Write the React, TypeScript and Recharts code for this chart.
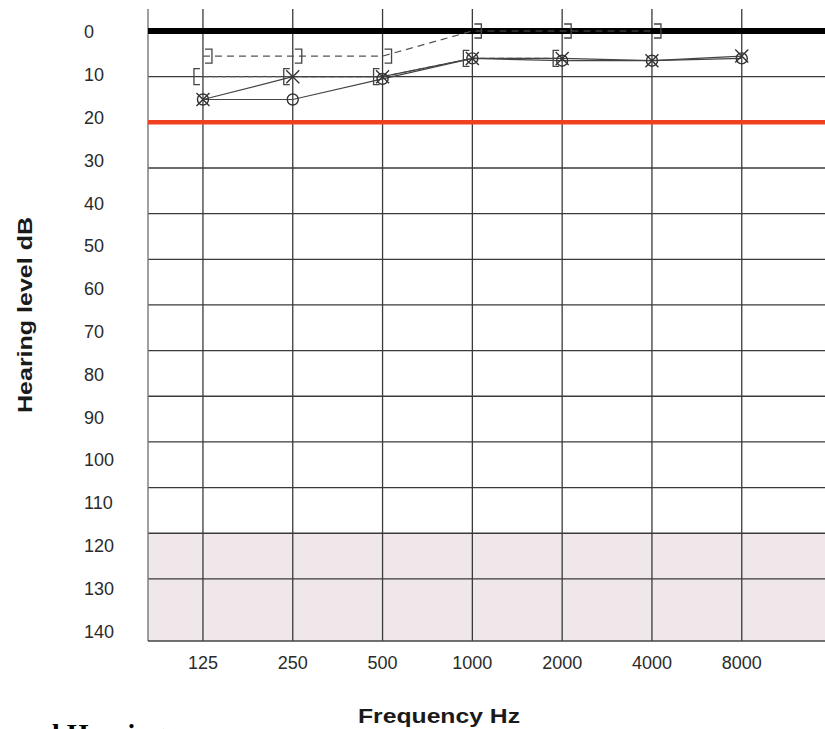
import { ComposedChart, Line, XAxis, YAxis, ReferenceLine, ReferenceArea } from 'recharts';

// audiogram values (dB HL)
const FREQS = ['125', '250', '500', '1000', '2000', '4000', '8000'];
const RIGHT_AIR = [15, 15, 10.5, 6, 6.5, 6.5, 6];
const LEFT_AIR = [15, 10, 10, 6, 6, 6.5, 5.5];
const RIGHT_BONE_MASKED = [10, 10, 10, 6, 6, null, null];
const LEFT_BONE_MASKED = [5.5, 5.5, 5.5, 0, 0, 0, null];

const DB_TICKS = [0, 10, 20, 30, 40, 50, 60, 70, 80, 90, 100, 110, 120, 130, 140];
const GRID_DB = [10, 20, 30, 40, 50, 60, 70, 80, 90, 100, 110, 120];
const NORMAL_LIMIT = 20;
const SHADE_FROM = 110;

// the scan's grid and its printed labels don't line up, so two y scales
const X_DOMAIN: [number, number] = [-0.612, 6.927];
const GRID_DOMAIN: [number, number] = [-4.82, 133.6];
const LABEL_DOMAIN: [number, number] = [-5.375, 142.32];

const rows = FREQS.map((f, i) => ({
  idx: i,
  freq: f,
  rightAir: RIGHT_AIR[i],
  leftAir: LEFT_AIR[i],
  rightBone: RIGHT_BONE_MASKED[i],
  leftBone: LEFT_BONE_MASKED[i],
}));

const INK = '#3a3a3a';
const SANS = "'Liberation Sans', Arial, Helvetica, sans-serif";

const DbTick = (props: any) => {
  const { y, payload } = props;
  return (
    <text x={84} y={y} dy="0.36em" textAnchor="start" fontSize={18} fill="#2b2b2b" fontFamily={SANS}>
      {payload.value}
    </text>
  );
};

const FreqTick = (props: any) => {
  const { x, y, payload } = props;
  return (
    <text x={x} y={y + 22} dy="0.36em" textAnchor="middle" fontSize={18} fill="#2b2b2b" fontFamily={SANS}>
      {FREQS[payload.value]}
    </text>
  );
};

const renderFreqLabel = () => (
  <g>
    <text x={439} y={723} textAnchor="middle" fontSize={21} fontWeight="bold" fill="#1a1a1a"
      fontFamily={SANS} textLength={162} lengthAdjust="spacingAndGlyphs">
      Frequency Hz
    </text>
    <text x={-32} y={743} fontSize={28} fontWeight="bold" fill="#000"
      fontFamily="'Liberation Serif', 'Times New Roman', serif">
      Normal Hearing
    </text>
  </g>
);

const renderDbLabel = () => (
  <text transform="translate(32,315) rotate(-90)" textAnchor="middle" fontSize={21} fontWeight="bold"
    fill="#1a1a1a" fontFamily={SANS} textLength={196} lengthAdjust="spacingAndGlyphs">
    Hearing level dB
  </text>
);

const noDot = (p: any) => <g key={`n-${p.index}`} />;

const circleDot = (p: any) =>
  p.cy == null ? noDot(p) : (
    <circle key={`o-${p.index}`} cx={p.cx} cy={p.cy} r={5.5} fill="none" stroke="#333" strokeWidth={1.4} />
  );

const crossDot = (p: any) => {
  if (p.cy == null) return noDot(p);
  const s = 6.5;
  return (
    <path key={`x-${p.index}`}
      d={`M${p.cx - s},${p.cy - s}L${p.cx + s},${p.cy + s}M${p.cx - s},${p.cy + s}L${p.cx + s},${p.cy - s}`}
      stroke="#333" strokeWidth={1.4} fill="none" />
  );
};

const openBracket = (p: any) => {
  if (p.cy == null) return noDot(p);
  const { cx, cy } = p;
  return (
    <path key={`lb-${p.index}`} d={`M${cx - 3},${cy - 8}H${cx - 9}V${cy + 8}H${cx - 3}`}
      stroke="#444" strokeWidth={1.3} fill="none" />
  );
};

const closeBracket = (p: any) => {
  if (p.cy == null) return noDot(p);
  const { cx, cy } = p;
  return (
    <path key={`rb-${p.index}`} d={`M${cx + 2},${cy - 7}H${cx + 9}V${cy + 7}H${cx + 2}`}
      stroke="#444" strokeWidth={1.3} fill="none" />
  );
};

export default function App() {
  return (
    <div style={{ position: 'absolute', left: 0, top: 0, width: 825, height: 729, background: '#fff' }}>
      <ComposedChart width={825} height={729} data={rows} margin={{ top: 9, right: 0, bottom: 0, left: 0 }}>
        <XAxis xAxisId="f" type="number" dataKey="idx" domain={X_DOMAIN} ticks={rows.map((r) => r.idx)}
          allowDataOverflow height={88} tickSize={0} tickMargin={0} tickLine={false} tick={<FreqTick />}
          axisLine={{ stroke: '#444', strokeWidth: 1.6 }} label={{ content: renderFreqLabel }} />
        <YAxis yAxisId="lab" type="number" domain={LABEL_DOMAIN} reversed allowDataOverflow ticks={DB_TICKS}
          width={148} tickLine={false} tick={<DbTick />} axisLine={false}
          label={{ content: renderDbLabel }} />
        <YAxis yAxisId="db" type="number" domain={GRID_DOMAIN} reversed allowDataOverflow hide />

        <ReferenceArea xAxisId="f" yAxisId="db" y1={SHADE_FROM} y2={GRID_DOMAIN[1]} fill="#efe7ea" fillOpacity={1}
          stroke="none" ifOverflow="hidden" />
        {GRID_DB.map((v) => (
          <ReferenceLine key={`h${v}`} xAxisId="f" yAxisId="db" y={v} stroke={INK} strokeWidth={1.3} />
        ))}
        {rows.map((r) => (
          <ReferenceLine key={`v${r.idx}`} xAxisId="f" yAxisId="db" x={r.idx} stroke={INK} strokeWidth={1.3} />
        ))}
        <ReferenceLine xAxisId="f" yAxisId="db" x={X_DOMAIN[0]} stroke="#777" strokeWidth={1.4} />
        <ReferenceLine xAxisId="f" yAxisId="db" y={NORMAL_LIMIT} stroke="#f0401f" strokeWidth={4.6} />
        <ReferenceLine xAxisId="f" yAxisId="db" y={0} stroke="#000" strokeWidth={6} />

        <Line xAxisId="f" yAxisId="db" dataKey="leftBone" stroke="#555" strokeWidth={1.2} strokeDasharray="7 5"
          dot={closeBracket} activeDot={false} isAnimationActive={false} />
        <Line xAxisId="f" yAxisId="db" dataKey="rightBone" stroke="#555" strokeWidth={1.2} strokeDasharray="6 3"
          dot={openBracket} activeDot={false} isAnimationActive={false} />
        <Line xAxisId="f" yAxisId="db" dataKey="rightAir" stroke="#444" strokeWidth={1.2}
          dot={circleDot} activeDot={false} isAnimationActive={false} />
        <Line xAxisId="f" yAxisId="db" dataKey="leftAir" stroke="#444" strokeWidth={1.2}
          dot={crossDot} activeDot={false} isAnimationActive={false} />
      </ComposedChart>
    </div>
  );
}
